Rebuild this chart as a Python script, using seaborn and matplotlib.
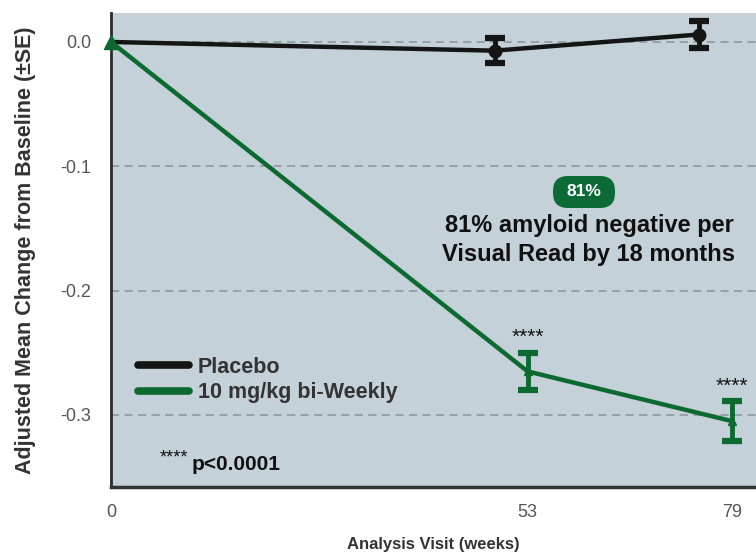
import matplotlib
matplotlib.use("Agg")
import matplotlib.pyplot as plt
from matplotlib.patches import FancyBboxPatch
from matplotlib.lines import Line2D
import seaborn as sns
import pandas as pd
import numpy as np

weeks = [0, 53, 79]
placebo_mean = [0.0, -0.007, 0.006]
placebo_se = [0.0, 0.010, 0.011]
treat_mean = [0.0, -0.265, -0.305]
treat_se = [0.0, 0.015, 0.016]
series_names = ["Placebo", "10 mg/kg bi-Weekly"]
y_ticks = [0.0, -0.1, -0.2, -0.3]
y_tick_labels = ["0.0", "-0.1", "-0.2", "-0.3"]
x_ticks = [0, 53, 79]

sns.set_style("white")
plt.rcParams['font.family'] = ['Liberation Sans', 'DejaVu Sans']

GREEN = "#0c6a30"
BLACK = "#151515"
BG = "#c4d1d9"
placebo_dodge = 4.2

placebo_x = [w - placebo_dodge if w > 0 else w for w in weeks]
df = pd.DataFrame({
    "week": placebo_x + weeks,
    "value": placebo_mean + treat_mean,
    "group": [series_names[0]] * 3 + [series_names[1]] * 3,
})

fig = plt.figure(figsize=(7.56, 5.53), dpi=100)
ax = fig.add_axes([111 / 756, 66 / 553, 645 / 756, 474 / 553])
ax.set_facecolor(BG)

sns.lineplot(data=df, x="week", y="value", hue="group",
             palette={series_names[0]: BLACK, series_names[1]: GREEN},
             linewidth=3.2, ax=ax, legend=False, zorder=3)

ax.errorbar(placebo_x[1:], placebo_mean[1:], yerr=placebo_se[1:], fmt="o", color=BLACK,
            ms=9, elinewidth=3.5, capsize=7.5, capthick=4.5, zorder=4)
ax.errorbar(weeks[1:], treat_mean[1:], yerr=treat_se[1:], fmt="^", color=GREEN,
            ms=6, elinewidth=3.5, capsize=7.5, capthick=4.5, zorder=4)
ax.plot([weeks[0]], [treat_mean[0]], marker="^", color=GREEN, ms=10, zorder=5,
        clip_on=False)

ax.set_xlim(0, 82.06)
ax.set_ylim(-0.358, 0.0233)
ax.set_yticks(y_ticks)
ax.set_yticklabels(y_tick_labels)
ax.set_xticks(x_ticks)
ax.tick_params(axis="y", colors="#666666", labelsize=13, length=9, width=1.5,
               direction="out", pad=5, labelcolor="#555555")
ax.tick_params(axis="x", colors="#666666", labelsize=13, length=7, width=1.5,
               direction="out", pad=5, labelcolor="#555555")
for yt in y_ticks:
    ax.axhline(yt, color="#939ca2", lw=1.3, ls=(0, (4.5, 3)), zorder=1)

for s in ["top", "right"]:
    ax.spines[s].set_visible(False)
ax.spines["left"].set_color("#2a2a2a")
ax.spines["left"].set_linewidth(2)
ax.spines["bottom"].set_color("#333333")
ax.spines["bottom"].set_linewidth(2.5)

ax.set_xlabel("Analysis Visit (weeks)", fontsize=12, fontweight="bold",
              color="#333333", labelpad=12)
ax.set_ylabel("Adjusted Mean Change from Baseline (\u00b1SE)", fontsize=15.5,
              fontweight="bold", color="#333333", labelpad=18)

handles = [Line2D([], [], color=BLACK, lw=5.5), Line2D([], [], color=GREEN, lw=5.5)]
leg = ax.legend(handles, series_names, loc="center left",
                bbox_to_anchor=(27 / 645, (487 - 380) / 474),
                frameon=False, handlelength=2.35, handletextpad=0.42,
                labelspacing=0.22, borderpad=0, borderaxespad=0,
                prop={"weight": "bold", "size": 15.5})
for t in leg.get_texts():
    t.set_color("#333333")

for i in (1, 2):
    ax.annotate("****", (weeks[i], treat_mean[i] + treat_se[i]), xytext=(0, 11),
                textcoords="offset points", ha="center", va="center", fontsize=15,
                color="#111111")

ax.text((160 - 111) / 645, (487 - 458) / 474, "****", transform=ax.transAxes,
        fontsize=13, color="#111111", va="center", ha="left")
ax.text((192 - 111) / 645, (487 - 465) / 474, "p<0.0001", transform=ax.transAxes,
        fontsize=15, fontweight="bold", color="#111111", va="center", ha="left")

badge = FancyBboxPatch((5.53, (553 - 208) / 100), 0.62, 0.32,
                       boxstyle="round,pad=0,rounding_size=0.15",
                       transform=fig.dpi_scale_trans, fc="#0b6a35", ec="none",
                       zorder=6)
fig.patches.append(badge)
fig.text(5.84 / 7.56, (553 - 192) / 553, "81%", fontsize=12.5, fontweight="bold",
         color="white", ha="center", va="center", zorder=7)

ax.text((589 - 111) / 645, (487 - 240) / 474,
        "81% amyloid negative per\nVisual Read by 18 months",
        transform=ax.transAxes, fontsize=17, fontweight="bold", color="#111111",
        ha="center", va="center", linespacing=1.35)

fig.savefig("out.png", dpi=100, facecolor="white")
